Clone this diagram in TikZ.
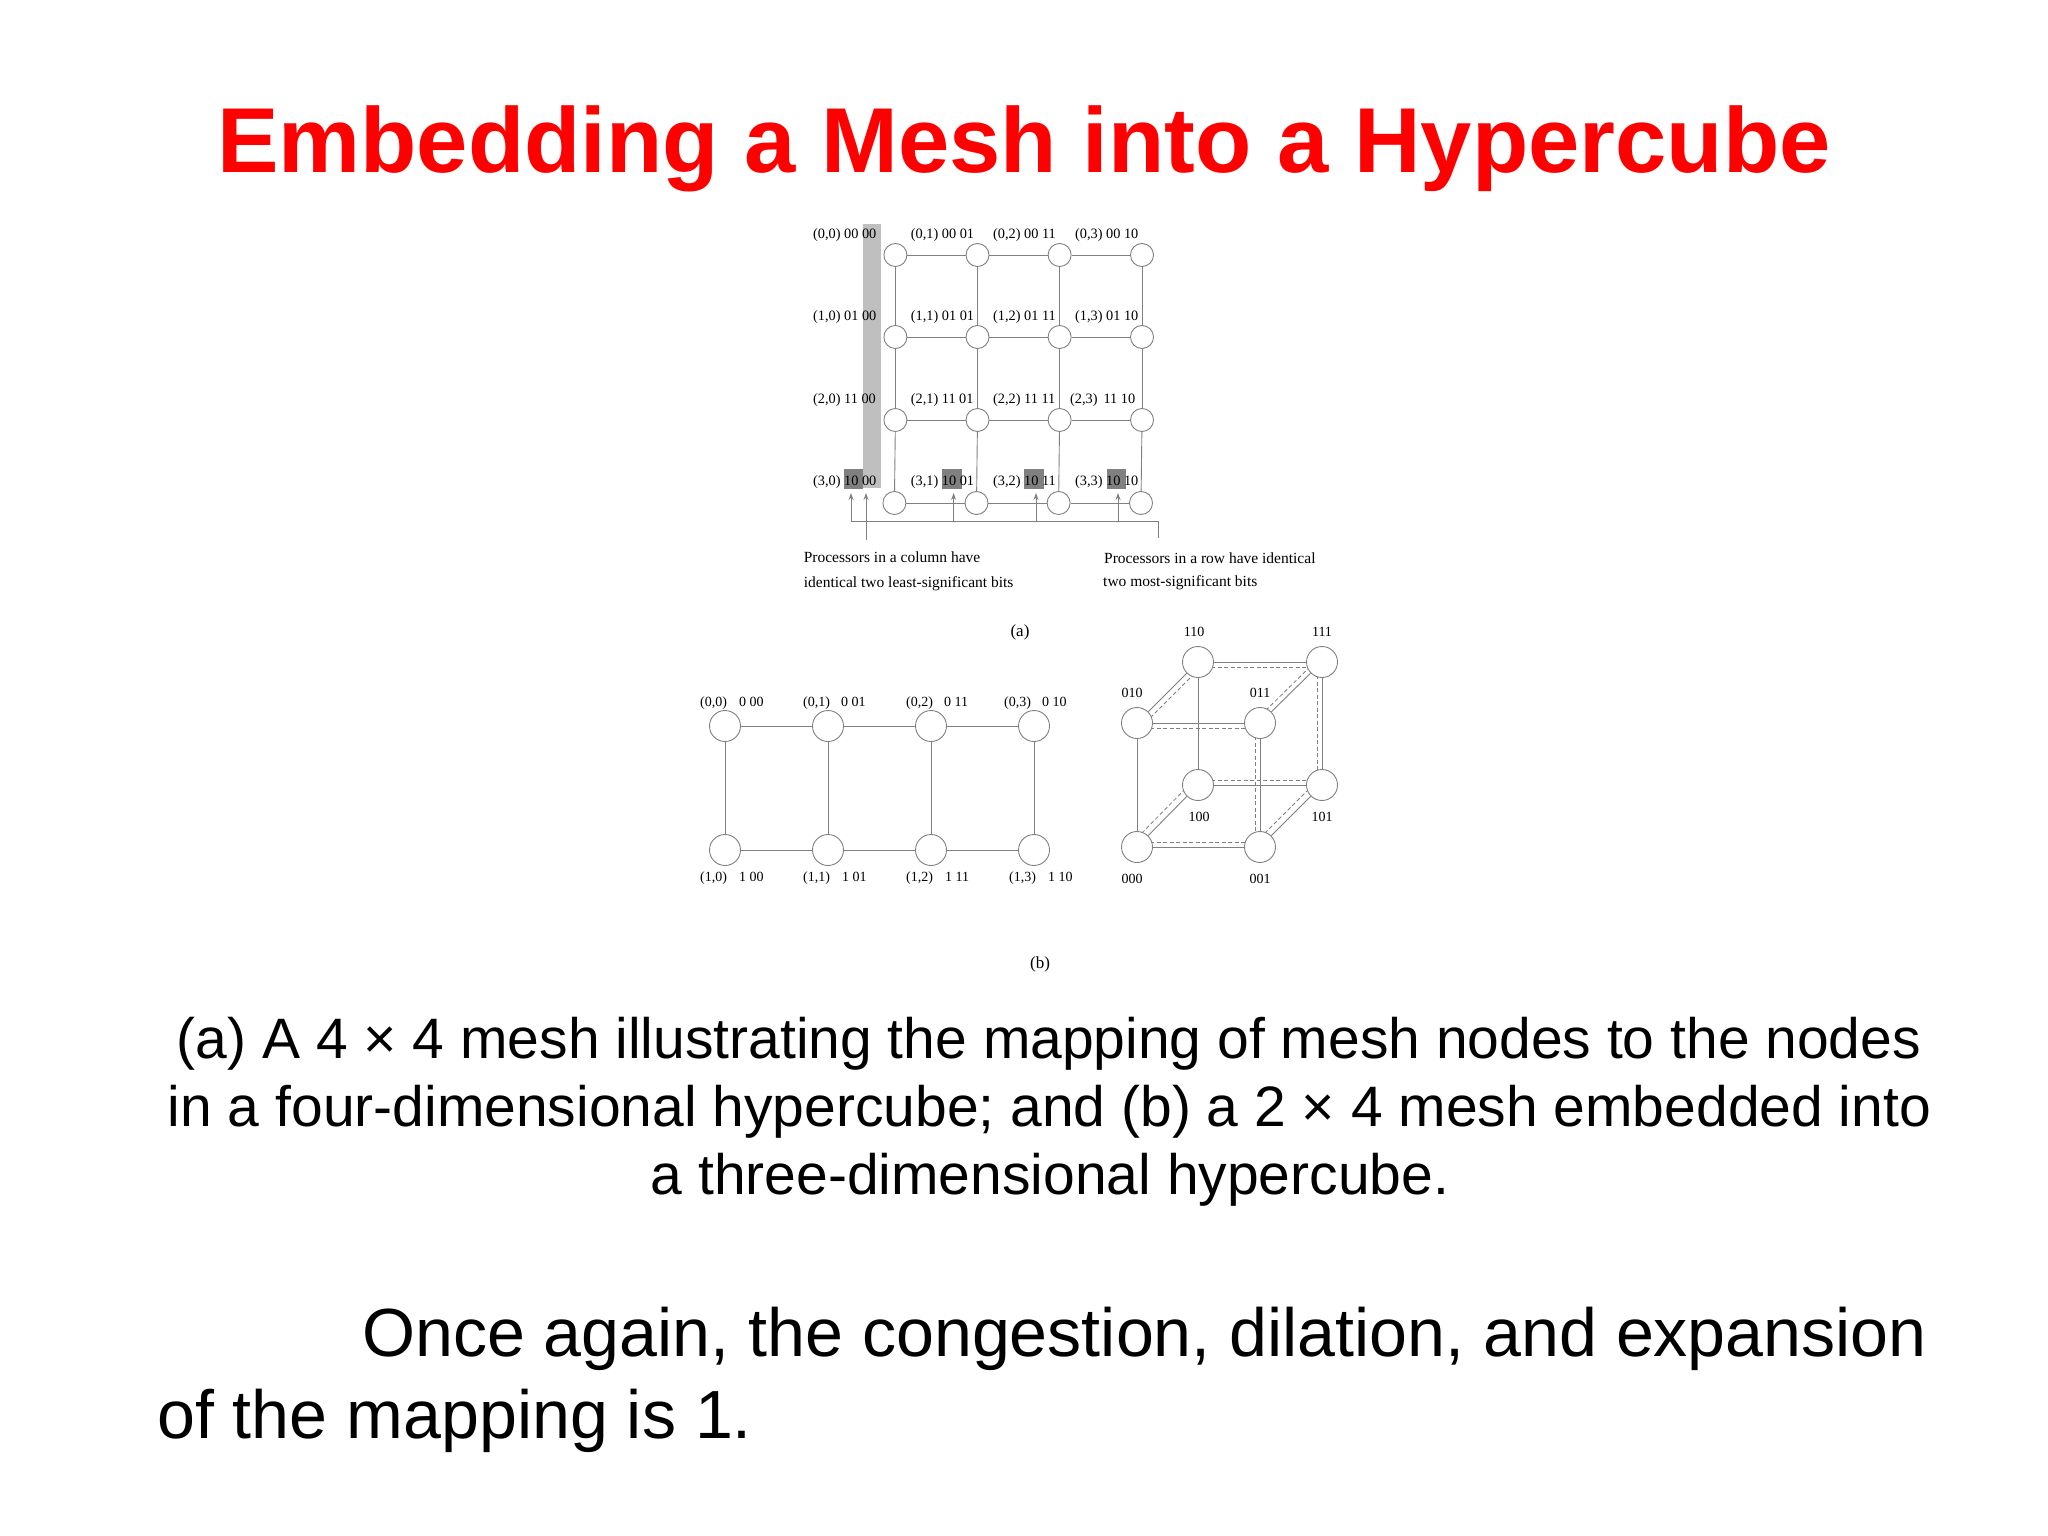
\documentclass[tikz,border=0pt]{standalone}
\usepackage{fontspec}
\setmainfont{Liberation Serif}
\newfontfamily\sansf{Liberation Sans}
\usetikzlibrary{arrows.meta,backgrounds}
\definecolor{edgegray}{HTML}{808080}
\definecolor{lightbar}{HTML}{BFBFBF}
\definecolor{darkbar}{HTML}{808080}
\definecolor{titlered}{HTML}{FF0000}
\tikzset{
  pnode/.style={circle,draw=edgegray,fill=white,line width=0.9pt,minimum size=#1,inner sep=0pt},
  lab/.style={anchor=base west,inner sep=0pt,font=\fontsize{14}{15}\selectfont,text=black},
  laba/.style={anchor=base west,inner sep=0pt,font=\fontsize{14.3}{15}\selectfont,text=black},
  clab/.style={anchor=base,inner sep=0pt,font=\fontsize{14}{15}\selectfont,text=black},
  captext/.style={anchor=base,inner sep=0pt,font=\fontsize{17}{18}\selectfont,text=black},
  note/.style={anchor=base west,inner sep=0pt,font=\fontsize{15.5}{16}\selectfont,text=black},
  edge/.style={draw=edgegray,line width=0.9pt},
  dashedge/.style={draw=edgegray,line width=0.8pt,dashed,dash pattern=on 4pt off 2.5pt},
  pointer/.style={draw=edgegray,line width=0.9pt,-{Stealth[length=7pt,width=5pt,open]}},
  title/.style={anchor=base,inner sep=0pt,font=\sansf\bfseries\fontsize{92.2}{96}\selectfont,text=titlered},
  body/.style={anchor=base,inner sep=0pt,font=\sansf\fontsize{57}{58}\selectfont,text=black},
  bodyl/.style={anchor=base west,inner sep=0pt,font=\sansf\fontsize{68.15}{70}\selectfont,text=black},
}
\begin{document}
\begin{tikzpicture}[x=1pt,y=-1pt]
\useasboundingbox (0,0) rectangle (2048,1536);
% title and text
\node[title] (ttl) at (1024,172) {Embedding a Mesh into a Hypercube};
\node[body] (b1) at (1049,1058) {(a) A 4 × 4 mesh illustrating the mapping of mesh nodes to the nodes};
\node[body] (b2) at (1049.5,1126) {in a four-dimensional hypercube; and (b) a 2 × 4 mesh embedded into};
\node[body] (b3) at (1050,1194) {a three-dimensional hypercube.};
\node[bodyl] (c1) at (362,1356) {Once again, the congestion, dilation, and expansion};
\node[bodyl] (c2) at (157,1438) {of the mapping is 1.};
% mesh (a) nodes
\foreach \r/\yy/\dx in {0/255/0,1/337/0,2/420/0,3/503/-1}{
  \foreach \c/\xx in {0/895.4,1/977.5,2/1059.6,3/1142}{
    \node[pnode=23pt] (m\r\c) at (\xx+\dx,\yy) {};
  }
}
% mesh (a) labels
\node[laba] (la00) at (813,238) {(0,0) 00 00};
\node[laba] (la01) at (910.7,238) {(0,1) 00 01};
\node[laba] (la02) at (993,238) {(0,2) 00 11};
\node[laba] (la03) at (1075,238) {(0,3) 00 10};
\node[laba] (la10) at (813,320) {(1,0) 01 00};
\node[laba] (la11) at (910.7,320) {(1,1) 01 01};
\node[laba] (la12) at (993,320) {(1,2) 01 11};
\node[laba] (la13) at (1075,320) {(1,3) 01 10};
\node[laba] (la20) at (813,403) {(2,0) 11 00};
\node[laba] (la21) at (910.7,403) {(2,1) 11 01};
\node[laba] (la22) at (993,403) {(2,2) 11 11};
\node[laba] (la23) at (1070,403) {(2,3)\hspace{6pt}11 10};
\node[laba] (la30) at (813,485) {(3,0) 10 00};
\node[laba] (la31) at (910.7,485) {(3,1) 10 01};
\node[laba] (la32) at (993,485) {(3,2) 10 11};
\node[laba] (la33) at (1075,485) {(3,3) 10 10};
% annotations
\node[note] (n1) at (803.6,562) {Processors in a column have};
\node[note] (n2) at (803.6,587) {identical two least-significant bits};
\node[note] (n3) at (1104,563) {Processors in a row have identical};
\node[note] (n4) at (1103,586) {two most-significant bits};
\node[captext] (capa) at (1020,636) {(a)};
\coordinate (brL) at (851,521);
\coordinate (brR) at (1158,521);
\coordinate (brEnd) at (1158,538);
\coordinate (t0) at (851,493);
\coordinate (f1) at (953.6,521);
\coordinate (t1) at (953.6,493);
\coordinate (f2) at (1036,521);
\coordinate (t2) at (1036,493);
\coordinate (f3) at (1118,521);
\coordinate (t3) at (1118,493);
\coordinate (colS) at (866,540);
\coordinate (colT) at (866,493);
% mesh (b)
\foreach \c/\xx in {0/725,1/828,2/931,3/1034}{
  \node[pnode=31pt] (p0\c) at (\xx,726) {};
  \node[pnode=31pt] (p1\c) at (\xx,850) {};
}
\node[lab] (lb00) at (700,706) {(0,0)\hspace{12pt}0 00};
\node[lab] (lb01) at (803,706) {(0,1)\hspace{11pt}0 01};
\node[lab] (lb02) at (906,706) {(0,2)\hspace{11pt}0 11};
\node[lab] (lb03) at (1004,706) {(0,3)\hspace{11pt}0 10};
\node[lab] (lb10) at (700,881) {(1,0)\hspace{12pt}1 00};
\node[lab] (lb11) at (803,881) {(1,1)\hspace{12pt}1 01};
\node[lab] (lb12) at (906,881) {(1,2)\hspace{12pt}1 11};
\node[lab] (lb13) at (1009,881) {(1,3)\hspace{12pt}1 10};
\node[captext] (capb) at (1040,968) {(b)};
% cube
\foreach \n/\xx/\yy in {110/1198/662,111/1322/662,010/1137/723,011/1260/723,100/1198/785,101/1322/785,000/1137/847,001/1260/847}{
  \node[pnode=31pt] (q\n) at (\xx,\yy) {};
}
\node[clab] (lq110) at (1194,636) {110};
\node[clab] (lq111) at (1322,636) {111};
\node[clab] (lq010) at (1132,697) {010};
\node[clab] (lq011) at (1260,697) {011};
\node[clab] (lq100) at (1199,821) {100};
\node[clab] (lq101) at (1322,821) {101};
\node[clab] (lq000) at (1132,883) {000};
\node[clab] (lq001) at (1260,883) {001};
\begin{scope}[on background layer]
\fill[white] (0,0) rectangle (2048,1536);
\fill[lightbar] (862.5,224) rectangle (880.7,488);
\fill[darkbar] (844,469) rectangle (862.5,489);
\fill[darkbar] (942,469) rectangle (962,489);
\fill[darkbar] (1024,469) rectangle (1044,489);
\fill[darkbar] (1107,469) rectangle (1126,489);
% mesh a edges
\foreach \r in {0,1,2,3}{
  \draw[edge] (m\r0) -- (m\r1);
  \draw[edge] (m\r1) -- (m\r2);
  \draw[edge] (m\r2) -- (m\r3);
}
\foreach \c in {0,1,2,3}{
  \draw[edge] (m0\c) -- (m1\c);
  \draw[edge] (m1\c) -- (m2\c);
  \draw[edge] (m2\c) -- (m3\c);
}
% pointers
\draw[edge] (brEnd) -- (brR) -- (brL);
\draw[pointer] (brL) -- (t0);
\draw[pointer] (f1) -- (t1);
\draw[pointer] (f2) -- (t2);
\draw[pointer] (f3) -- (t3);
\draw[pointer] (colS) -- (colT);
% mesh b edges
\foreach \a/\b in {0/1,1/2,2/3}{
  \draw[edge] (p0\a) -- (p0\b);
  \draw[edge] (p1\a) -- (p1\b);
}
\foreach \c in {0,1,2,3}{\draw[edge] (p0\c) -- (p1\c);}
% cube edges
\foreach \a/\b in {110/111,010/011,010/110,011/111,110/100,010/000,011/001,111/101,100/101,000/001,000/100,001/101}{
  \draw[edge] (q\a) -- (q\b);
}
% dashed embedded ring
\foreach \a/\b/\sx/\sy in {110/111/0/5,010/011/0/5,100/101/0/-5,000/001/0/-5,111/101/-5/0,011/001/-5/0,010/110/4/4,011/111/-3.5/-3.5,000/100/-4.5/-4.5,001/101/-4.5/-4.5}{
  \draw[dashedge] ([shift={(\sx,\sy)}]q\a.center) -- ([shift={(\sx,\sy)}]q\b.center);
}
\end{scope}
\end{tikzpicture}
\end{document}
